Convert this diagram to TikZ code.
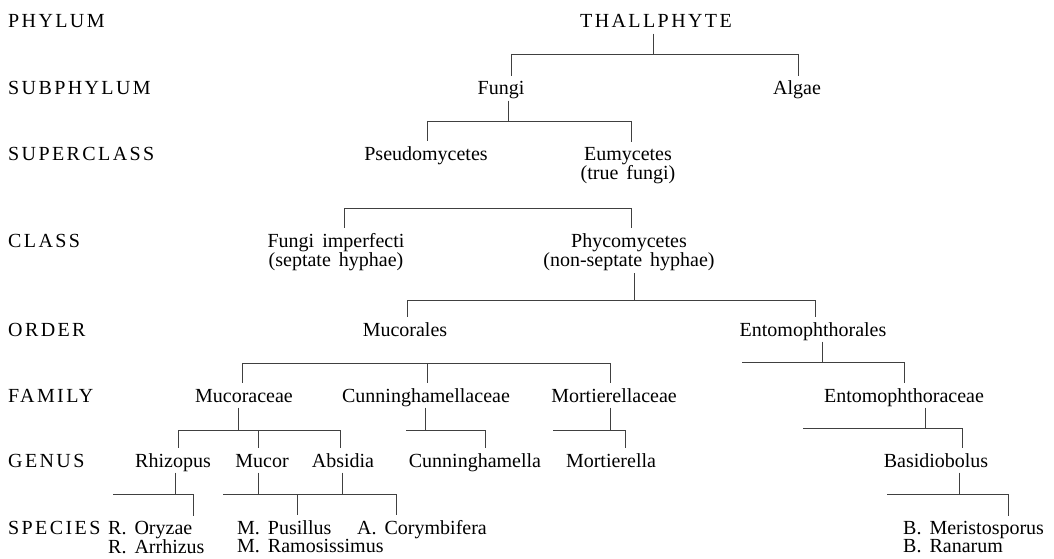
\documentclass[tikz,border=0pt]{standalone}
\usepackage{fontspec}
\setmainfont{Liberation Serif}[WordSpace=1.6]
\newfontfamily\capsfont{Liberation Serif}[LetterSpace=12]
\usetikzlibrary{calc}
\begin{document}
\begin{tikzpicture}[x=1pt,y=-1pt,
  every node/.style={inner sep=0pt, font=\fontsize{20}{18}\selectfont},
  lbl/.style={anchor=base, text height=13.5pt, text depth=4pt},
  mlbl/.style={anchor=base},
  spc/.style={anchor=base west},
  rank/.style={anchor=base west, font=\fontsize{20}{18}\selectfont\capsfont},
  ln/.style={draw=black!75, line width=0.8pt},
  par/.style={ln, shorten <=1.5pt},
  chi/.style={ln, shorten >=5pt}]
\useasboundingbox (0,0) rectangle (1054,559);
% rank labels
\node[rank] (rPhy) at (8,28) {PHYLUM};
\node[rank] (rSub) at (8,95) {SUBPHYLUM};
\node[rank] (rSup) at (8,160) {SUPERCLASS};
\node[rank] (rCla) at (8,247) {CLASS};
\node[rank] (rOrd) at (8,336) {ORDER};
\node[rank] (rFam) at (8,402) {FAMILY};
\node[rank] (rGen) at (8,467) {GENUS};
\node[rank] (rSpe) at (8,534) {SPECIES};
% tree nodes
\node[lbl, font=\fontsize{20}{18}\selectfont\capsfont] (thall) at (656,28) {THALLPHYTE};
\node[lbl] (fungi) at (501,95) {Fungi};
\node[lbl] (algae) at (797,95) {Algae};
\node[lbl] (pseudo) at (426,160) {Pseudomycetes};
\node[mlbl] (eumy) at (628,160) {\begin{tabular}[t]{@{}c@{}}Eumycetes\\(true fungi)\end{tabular}};
\node[mlbl] (fimp) at (336,247) {\begin{tabular}[t]{@{}c@{}}Fungi imperfecti\\(septate hyphae)\end{tabular}};
\node[mlbl] (phyco) at (629,247) {\begin{tabular}[t]{@{}c@{}}Phycomycetes\\(non-septate hyphae)\end{tabular}};
\node[lbl] (mucorales) at (405,336) {Mucorales};
\node[lbl] (entoml) at (813,336) {Entomophthorales};
\node[lbl] (mucoraceae) at (244,402) {Mucoraceae};
\node[lbl] (cunnc) at (426,402) {Cunninghamellaceae};
\node[lbl] (mortc) at (614,402) {Mortierellaceae};
\node[lbl] (entomc) at (904,402) {Entomophthoraceae};
\node[lbl] (rhizo) at (173,467) {Rhizopus};
\node[lbl] (mucor) at (262,467) {Mucor};
\node[lbl] (absid) at (343,467) {Absidia};
\node[lbl] (cunn) at (475,467) {Cunninghamella};
\node[lbl] (mort) at (611,467) {Mortierella};
\node[lbl] (basid) at (936,467) {Basidiobolus};
\node[spc] (sR) at (108,534) {\begin{tabular}[t]{@{}l@{}}R. Oryzae\\R. Arrhizus\end{tabular}};
\node[spc] (sM) at (237,534) {\begin{tabular}[t]{@{}l@{}}M. Pusillus\\M. Ramosissimus\end{tabular}};
\node[spc] (sA) at (357,534) {A. Corymbifera};
\node[spc] (sB) at (903,534) {\begin{tabular}[t]{@{}l@{}}B. Meristosporus\\B. Ranarum\end{tabular}};
% junction coordinates
\coordinate (p1) at (653,54); \coordinate (a1) at (511,54); \coordinate (a2) at (798,54);
\coordinate (p2) at (508,121); \coordinate (b1) at (427,121); \coordinate (b2) at (631,121);
\coordinate (c1) at (344,208); \coordinate (c2) at (631,208);
\coordinate (p4) at (634,300); \coordinate (d1) at (407,300); \coordinate (d2) at (815,300);
\coordinate (e1) at (242,363); \coordinate (e2) at (427,363); \coordinate (e3) at (610,363);
\coordinate (p6) at (822,362); \coordinate (f0) at (742,362); \coordinate (f1) at (904,362);
\coordinate (p7) at (238,430); \coordinate (g1) at (178,430); \coordinate (g2) at (258,430); \coordinate (g3) at (340,430);
\coordinate (p8) at (425,430); \coordinate (h0) at (406,430); \coordinate (h1) at (485,430);
\coordinate (p9) at (610,430); \coordinate (i0) at (553,430); \coordinate (i1) at (625,430);
\coordinate (p10) at (925,428); \coordinate (k0) at (803,428); \coordinate (k1) at (962,428);
\coordinate (p11) at (175,494); \coordinate (m0) at (113,494); \coordinate (m1) at (193,494);
\coordinate (p12) at (258,494); \coordinate (n0) at (223,494); \coordinate (n1) at (297,494);
\coordinate (p13) at (342,494); \coordinate (o1) at (396,494);
\coordinate (p14) at (959,494); \coordinate (q0) at (887,494); \coordinate (q1) at (1008,494);
% G1 THALLPHYTE
\draw[par] (p1 |- thall.south) -- (p1);
\draw[ln] (a1) -- (a2);
\draw[chi] (a1) -- (a1 |- fungi.north);
\draw[chi] (a2) -- (a2 |- algae.north);
% G2 Fungi
\draw[par] (p2 |- fungi.south) -- (p2);
\draw[ln] (b1) -- (b2);
\draw[chi] (b1) -- (b1 |- pseudo.north);
\draw[chi] (b2) -- (b2 |- eumy.north);
% G3 class
\draw[ln] (c1) -- (c2);
\draw[chi] (c1) -- (c1 |- fimp.north);
\draw[chi] (c2) -- (c2 |- phyco.north);
% G4 Phycomycetes
\draw[par] (p4 |- phyco.south) -- (p4);
\draw[ln] (d1) -- (d2);
\draw[chi] (d1) -- (d1 |- mucorales.north);
\draw[chi] (d2) -- (d2 |- entoml.north);
% G5 Mucorales families
\draw[ln] (e1) -- (e3);
\draw[chi] (e1) -- (e1 |- mucoraceae.north);
\draw[chi] (e2) -- (e2 |- cunnc.north);
\draw[chi] (e3) -- (e3 |- mortc.north);
% G6 Entomophthorales
\draw[par] (p6 |- entoml.south) -- (p6);
\draw[ln] (f0) -- (f1);
\draw[chi] (f1) -- (f1 |- entomc.north);
% G7 Mucoraceae
\draw[par] (p7 |- mucoraceae.south) -- (p7);
\draw[ln] (g1) -- (g3);
\draw[chi] (g1) -- (g1 |- rhizo.north);
\draw[chi] (g2) -- (g2 |- mucor.north);
\draw[chi] (g3) -- (g3 |- absid.north);
% G8 Cunninghamellaceae
\draw[par] (p8 |- cunnc.south) -- (p8);
\draw[ln] (h0) -- (h1);
\draw[chi] (h1) -- (h1 |- cunn.north);
% G9 Mortierellaceae
\draw[par] (p9 |- mortc.south) -- (p9);
\draw[ln] (i0) -- (i1);
\draw[chi] (i1) -- (i1 |- mort.north);
% G10 Entomophthoraceae
\draw[par] (p10 |- entomc.south) -- (p10);
\draw[ln] (k0) -- (k1);
\draw[chi] (k1) -- (k1 |- basid.north);
% G11 Rhizopus
\draw[par] (p11 |- rhizo.south) -- (p11);
\draw[ln] (m0) -- (m1);
\draw[chi] (m1) -- (m1 |- sR.north);
% G12 Mucor
\draw[par] (p12 |- mucor.south) -- (p12);
\draw[ln] (n0) -- (n1);
\draw[chi] (n1) -- (n1 |- sM.north);
% G13 Absidia
\draw[par] (p13 |- absid.south) -- (p13);
\draw[ln] (n1) -- (o1);
\draw[chi] (o1) -- (o1 |- sA.north);
% G14 Basidiobolus
\draw[par] (p14 |- basid.south) -- (p14);
\draw[ln] (q0) -- (q1);
\draw[chi] (q1) -- (q1 |- sB.north);
\end{tikzpicture}
\end{document}
